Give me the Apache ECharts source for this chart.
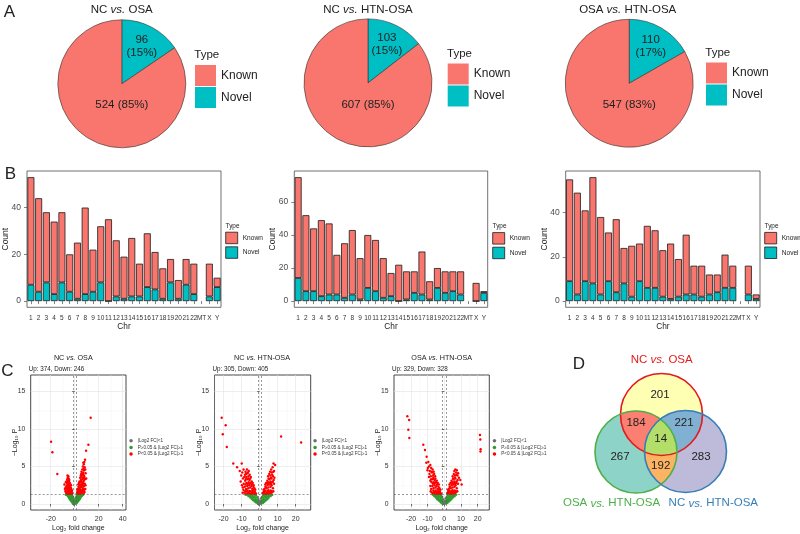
<!DOCTYPE html>
<html>
<head>
<meta charset="utf-8">
<script src="https://cdn.jsdelivr.net/npm/echarts@6.0.0/dist/echarts.min.js"></script>
<style>
html,body{margin:0;padding:0;background:#ffffff;}
#chart{width:800px;height:534px;}
</style>
</head>
<body>
<div id="chart"></div>
<script>
// ================= DATA =================
// Panel A
const pieTitles = ['NC vs. OSA', 'NC vs. HTN-OSA', 'OSA vs. HTN-OSA'];
const pieKnown = [524, 607, 547];
const pieNovel = [96, 103, 110];
const typeNames = ['Known', 'Novel'];

// Panel B
const chrCategories = ['1','2','3','4','5','6','7','8','9','10','11','12','13','14','15','16','17','18','19','20','21','22','MT','X','Y'];
const b1Known = [46,40,30,31,30,16,24,37,18,24,35,24,18,25,14,23,16,13,10,8,11,13,null,14,4];
const b1Novel = [7,4,8,3,8,4,1,3,4,8,0,2,1,2,2,6,5,1,8,1,7,3,null,2,6];
const b2Known = [61,46,38,46,43,24,33,39,25,32,31,24,14,22,17,13,26,11,12,13,12,14,null,11,1];
const b2Novel = [14,6,6,3,4,4,2,4,1,8,6,2,3,0,1,5,4,1,8,5,6,4,null,0,5];
const b3Known = [46,46,32,48,35,22,33,16,23,17,28,26,21,25,17,27,13,14,9,8,15,10,null,13,2];
const b3Novel = [9,3,9,8,3,9,4,8,2,9,6,6,2,1,2,3,3,2,3,4,6,6,null,3,1];
const b1Ticks = [0,20,40];
const b2Ticks = [0,20,40,60];
const b3Ticks = [0,20,40];

// Panel C
const volcTitles = ['NC vs. OSA', 'NC vs. HTN-OSA', 'OSA vs. HTN-OSA'];
const volcUp = [374, 305, 329];
const volcDown = [246, 405, 328];
const volcLegend = ['|Log2 FC|<1', 'P\u22650.05 & |Log2 FC|\u22651', 'P<0.05 & |Log2 FC|\u22651'];
const fcCut = [-1, 1];
const pCut = 1.301;
const vYTicks = [0,5,10,15];
const vYMinor = [2.5,7.5,12.5];
const v1XTicks = [-20,0,20,40];
const v1XMinor = [-30,-10,10,30];
const v2XTicks = [-20,-10,0,10,20];
const v2XMinor = [-25,-15,-5,5,15,25];
const v3XTicks = [-20,-10,0,10,20];
const v3XMinor = [-25,-15,-5,5,15,25];

const v1Grey = [[-0.9,0.3],[-0.7,0.12],[-0.4,0.06],[0,0.02],[0.35,0.07],[0.65,0.18],[0.9,0.4],[-0.8,0.65],[0.75,0.75],[-0.5,0.35],[0.45,0.45],[-0.2,0.15],[0.2,0.22]];
const v1Green = [[-1.2,0.1],[-1.5,0.25],[-1.8,0.15],[-2.2,0.4],[-2.5,0.3],[-2.9,0.6],[-3.2,0.45],[-3.6,0.75],[-4.0,0.6],[-4.3,0.95],[-4.7,0.8],[-5.1,1.1],[-5.5,1.0],[-5.9,1.2],[-6.4,1.25],[-3.0,1.0],[-2.4,0.8],[-1.7,0.5],[-3.8,1.2],[-2.0,1.1],[-6.9,1.2],[-1.4,0.9],[-2.7,1.25],[-4.5,1.2],[-3.4,0.9],[-2.1,0.62],[-5.3,1.25],[-7.4,1.25],
  [1.2,0.12],[1.6,0.3],[1.9,0.18],[2.3,0.45],[2.7,0.35],[3.0,0.65],[3.4,0.5],[3.8,0.8],[4.1,0.65],[4.5,1.0],[4.9,0.85],[5.3,1.15],[5.7,1.05],[6.2,1.25],[2.8,1.0],[2.1,0.85],[1.5,0.6],[3.6,1.2],[1.8,1.15],[6.6,1.2],[1.3,0.95],[2.5,1.2],[4.3,1.2],[3.3,0.92],[2.2,0.64],[5.0,1.25],[7.0,1.25]];
const v1Red = [[-2.1,1.4],[-2.5,1.6],[-3.0,1.45],[-3.4,1.8],[-3.8,1.5],[-4.2,1.7],[-4.6,1.4],[-5.1,1.6],[-5.5,1.35],[-6.0,1.5],[-6.6,1.4],[-7.2,1.5],[-2.8,2.0],[-3.3,2.2],[-3.9,2.1],[-4.4,2.3],[-4.9,2.0],[-5.4,2.2],[-5.9,1.9],[-6.4,2.1],[-7.0,1.8],[-3.6,2.6],[-4.1,2.8],[-4.7,2.7],[-5.2,2.9],[-5.7,2.5],[-6.3,2.7],[-6.9,2.4],[-7.6,2.2],[-4.5,3.2],[-5.0,3.4],[-5.6,3.1],[-6.2,3.3],[-6.8,3.0],[-5.3,3.7],[-6.0,3.8],[-7.4,2.9],[-8.2,2.0],[-2.3,1.8],[-3.1,2.5],
  [-2.6,1.35],[-3.5,1.35],[-4.4,1.55],[-5.3,1.8],[-6.2,1.8],[-7.8,1.7],[-3.2,1.95],[-4.2,2.5],[-5.0,2.5],[-6.0,2.3],[-6.6,3.0],[-4.8,3.0],[-5.8,3.5],[-2.6,1.75],[-8.6,2.6],
  [-14.5,4.0],[-18.6,6.9],[-19.7,8.3],
  [1.8,1.4],[2.3,1.6],[2.8,1.45],[3.3,1.7],[3.8,1.5],[4.4,1.8],[5.0,1.4],[5.6,1.6],[6.2,1.5],[6.8,1.7],[7.5,1.4],[8.2,1.6],[2.6,2.0],[3.1,2.3],[3.7,2.1],[4.2,2.5],[4.8,2.2],[5.3,2.6],[5.9,2.3],[6.5,2.5],[7.1,2.1],[7.8,2.4],[3.5,2.8],[4.0,3.0],[4.6,2.9],[5.2,3.2],[5.7,3.0],[6.3,3.3],[6.9,2.9],[7.6,3.1],[8.4,2.7],[4.5,3.5],[5.1,3.8],[5.8,3.6],[6.4,3.9],[7.0,3.5],[7.7,3.8],[8.6,3.3],[5.6,4.3],[6.3,4.6],[7.1,4.2],[7.9,4.5],[6.8,5.0],[7.6,5.3],[8.3,4.9],[9.1,4.1],[8.0,5.6],[8.6,5.9],[9.0,2.5],[9.6,3.4],[2.1,1.9],[3.0,2.6],[4.1,1.9],
  [2.0,1.5],[2.6,1.75],[3.5,1.35],[4.2,1.45],[4.7,1.6],[5.3,1.85],[6.0,1.8],[6.6,2.0],[7.2,1.8],[7.9,1.9],[8.8,2.0],[3.3,2.0],[4.4,2.2],[5.5,2.3],[6.1,2.7],[6.9,2.7],[7.4,3.4],[8.1,3.6],[5.4,4.0],[6.9,4.0],[7.4,4.7],[8.8,4.6],[7.2,5.5],
  [9.5,7.1],[11.4,7.9],[13.3,11.5]];

const v2Grey = [[-0.9,0.3],[-0.7,0.12],[-0.4,0.06],[0,0.02],[0.35,0.07],[0.65,0.18],[0.9,0.4],[-0.8,0.65],[0.75,0.75],[-0.5,0.35],[0.45,0.45],[-0.2,0.15],[0.2,0.22]];
const v2Green = [[-1.2,0.12],[-1.6,0.28],[-1.9,0.2],[-2.3,0.42],[-2.7,0.33],[-3.1,0.62],[-3.5,0.5],[-3.9,0.8],[-4.3,0.66],[-4.7,1.0],[-5.2,0.86],[-5.6,1.15],[-6.1,1.05],[-6.6,1.25],[-7.2,1.22],[-3.0,1.0],[-2.3,0.85],[-1.6,0.55],[-4.0,1.2],[-2.0,1.15],[-1.3,0.9],[-2.8,1.25],[-5.0,1.25],[-3.6,0.95],[-2.2,0.64],[-7.8,1.25],
  [1.2,0.1],[1.5,0.27],[1.9,0.16],[2.2,0.4],[2.6,0.3],[3.0,0.6],[3.4,0.47],[3.8,0.77],[4.2,0.62],[4.6,0.98],[5.0,0.84],[5.5,1.15],[6.0,1.05],[6.5,1.24],[2.9,1.0],[2.2,0.83],[1.6,0.58],[3.7,1.2],[1.9,1.12],[1.3,0.92],[2.6,1.24],[3.5,0.93],[2.1,0.62],[4.7,1.24],[7.0,1.24]];
const v2Red = [[-2.0,1.4],[-2.6,1.6],[-3.1,1.45],[-3.7,1.75],[-4.2,1.5],[-4.8,1.7],[-5.3,1.4],[-5.9,1.6],[-6.5,1.45],[-7.1,1.65],[-7.8,1.4],[-8.5,1.55],[-2.9,2.1],[-3.5,2.3],[-4.1,2.0],[-4.6,2.4],[-5.2,2.2],[-5.8,2.5],[-6.3,2.1],[-6.9,2.4],[-7.5,2.0],[-8.2,2.3],[-9.0,1.9],[-3.8,2.8],[-4.4,3.0],[-5.0,2.8],[-5.6,3.2],[-6.1,2.9],[-6.7,3.3],[-7.3,2.8],[-8.0,3.1],[-8.8,2.7],[-4.9,3.6],[-5.5,3.9],[-6.2,3.7],[-6.8,4.1],[-7.4,3.6],[-8.1,3.9],[-9.2,3.4],[-6.0,4.4],[-7.0,4.6],[-7.8,4.3],[-8.9,4.6],[-10.2,3.8],[-11.0,4.4],[-2.4,1.9],[-3.3,2.5],[-9.8,2.5],[-10.5,3.0],
  [-2.3,1.35],[-3.4,1.4],[-4.5,1.35],[-5.6,1.75],[-6.8,1.8],[-8.0,1.75],[-9.4,1.5],[-3.2,1.9],[-4.3,2.6],[-5.5,2.7],[-6.6,2.7],[-7.8,2.6],[-9.3,2.2],[-5.2,3.4],[-6.4,3.4],[-7.6,3.3],[-8.5,3.6],[-6.5,4.2],[-7.5,4.0],[-9.6,4.2],
  [-9.9,5.4],[-14.6,5.4],[-12.5,4.9],[-18.2,7.6],[-20.4,9.3],[-18.8,10.5],[-21.0,11.5],
  [1.8,1.4],[2.3,1.6],[2.8,1.45],[3.3,1.75],[3.9,1.5],[4.5,1.7],[5.1,1.4],[5.7,1.6],[6.3,1.5],[7.0,1.6],[2.7,2.0],[3.2,2.3],[3.8,2.1],[4.3,2.5],[4.9,2.2],[5.5,2.6],[6.1,2.3],[6.7,2.5],[7.4,2.1],[3.6,2.8],[4.2,3.1],[4.8,2.9],[5.4,3.3],[6.0,3.0],[6.6,3.4],[7.3,3.0],[8.0,2.7],[4.7,3.7],[5.3,4.0],[6.0,3.8],[6.7,4.2],[7.4,3.7],[8.2,3.5],[6.4,4.6],[7.2,4.9],[8.0,4.4],[8.6,5.2],[7.7,5.4],[2.2,1.9],[3.1,2.6],
  [2.0,1.5],[2.6,1.75],[3.6,1.35],[4.2,1.5],[4.8,1.85],[5.4,1.45],[6.0,1.8],[6.6,1.75],[7.6,1.7],[3.5,2.2],[4.6,2.7],[5.8,2.8],[6.3,2.7],[7.0,2.9],[7.8,3.2],[5.0,3.4],[6.3,3.5],[7.0,3.9],[5.8,4.3],[7.6,4.3],
  [11.9,9.0],[23.0,8.2]];

const v3Grey = [[-0.9,0.3],[-0.7,0.12],[-0.4,0.06],[0,0.02],[0.35,0.07],[0.65,0.18],[0.9,0.4],[-0.8,0.65],[0.75,0.75],[-0.5,0.35],[0.45,0.45],[-0.2,0.15],[0.2,0.22]];
const v3Green = [[-1.2,0.1],[-1.5,0.26],[-1.9,0.18],[-2.2,0.43],[-2.6,0.32],[-3.0,0.6],[-3.4,0.48],[-3.8,0.78],[-4.2,0.64],[-4.6,0.98],[-5.0,0.85],[-5.5,1.12],[-5.9,1.02],[-6.4,1.24],[-2.9,1.02],[-2.2,0.86],[-1.5,0.57],[-3.8,1.18],[-1.9,1.13],[-1.3,0.93],[-2.7,1.26],[-3.5,0.94],[-2.1,0.63],[-4.8,1.25],[-6.9,1.25],
  [1.2,0.11],[1.6,0.29],[1.9,0.17],[2.3,0.44],[2.7,0.34],[3.1,0.63],[3.5,0.49],[3.9,0.79],[4.3,0.66],[4.7,1.01],[5.1,0.86],[5.6,1.14],[6.1,1.04],[6.6,1.25],[3.0,1.01],[2.3,0.84],[1.6,0.56],[3.9,1.21],[2.0,1.14],[1.4,0.91],[2.8,1.25],[3.6,0.95],[2.2,0.62],[4.9,1.24],[7.1,1.25]];
const v3Red = [[-2.0,1.4],[-2.6,1.6],[-3.2,1.45],[-3.8,1.7],[-4.4,1.5],[-5.0,1.65],[-5.6,1.4],[-6.2,1.6],[-6.9,1.45],[-7.6,1.55],[-2.9,2.1],[-3.5,2.3],[-4.1,2.0],[-4.7,2.4],[-5.3,2.2],[-5.9,2.5],[-6.5,2.1],[-7.2,2.4],[-7.9,2.0],[-3.9,2.8],[-4.5,3.1],[-5.1,2.9],[-5.7,3.2],[-6.3,2.9],[-6.9,3.3],[-7.6,2.9],[-8.4,3.1],[-5.5,3.7],[-6.1,4.0],[-6.8,3.8],[-7.4,4.2],[-8.1,3.7],[-8.9,4.0],[-7.0,4.6],[-7.9,4.8],[-8.7,4.4],[-9.2,5.0],[-10.1,4.5],[-2.3,1.9],[-3.3,2.6],
  [-2.3,1.35],[-3.5,1.4],[-4.7,1.35],[-5.3,1.8],[-6.6,1.8],[-8.2,1.7],[-3.2,1.9],[-4.4,2.6],[-5.6,2.8],[-6.8,2.7],[-8.4,2.4],[-5.4,3.4],[-6.6,3.5],[-7.9,3.3],[-9.2,3.6],[-6.4,4.3],[-7.7,4.3],[-8.4,5.2],[-9.9,4.8],[-10.8,5.5],
  [-9.6,5.6],[-10.6,6.3],[-11.6,7.2],[-12.6,7.9],[-22.2,11.7],[-21.1,11.2],[-21.6,9.9],[-21.0,8.8],
  [1.8,1.4],[2.3,1.6],[2.8,1.45],[3.4,1.7],[4.0,1.5],[4.6,1.7],[5.2,1.4],[5.8,1.6],[6.5,1.5],[7.2,1.6],[2.7,2.0],[3.2,2.3],[3.8,2.1],[4.4,2.5],[5.0,2.2],[5.6,2.6],[6.2,2.3],[6.8,2.5],[7.5,2.1],[3.7,2.8],[4.3,3.1],[4.9,2.9],[5.5,3.3],[6.1,3.0],[6.7,3.4],[7.4,3.0],[8.2,2.7],[5.0,3.7],[5.7,4.0],[6.4,3.8],[7.1,4.2],[7.9,3.8],[8.8,3.5],[6.6,4.6],[7.5,4.5],[9.6,3.2],[10.4,2.6],[2.2,1.9],[3.1,2.6],
  [2.0,1.5],[2.6,1.75],[3.7,1.35],[4.3,1.5],[4.9,1.85],[5.5,1.45],[6.1,1.8],[6.8,1.75],[7.8,1.7],[3.5,2.2],[4.7,2.7],[5.9,2.8],[6.4,2.7],[7.1,2.8],[8.0,3.2],[5.2,3.4],[6.4,3.5],[7.3,3.9],[6.0,4.4],[8.3,4.1],
  [21.4,9.2],[21.6,8.6],[21.8,7.3],[21.7,7.0]];

// Panel D
const vennSetNames = ['NC vs. OSA', 'OSA vs. HTN-OSA', 'NC vs. HTN-OSA'];
const vennRegions = ['A','B','C','AB','AC','BC','ABC'];
const vennCounts = [201, 267, 283, 184, 221, 192, 14];

// ================= STYLE / LAYOUT =================
const FONT = '"Liberation Sans", Arial, Helvetica, "DejaVu Sans", sans-serif';
const KNOWN_C = '#F8766D', NOVEL_C = '#00BFC4';
const PIE_CENTERS = [[121.8, 83.8], [368, 82.9], [629.2, 83.3]];
const PIE_R = 64;
const PIE_LEGEND_POS = [[195, 65], [447.7, 63.5], [706, 62.5]];
const BAR_GRIDS = [
  {left: 27, top: 171, width: 194, height: 136.3},
  {left: 294.3, top: 171, width: 193.4, height: 136.3},
  {left: 565.7, top: 171, width: 194.3, height: 136.3}
];
const BAR_LEGEND_POS = [[225.3, 231.8], [492.3, 232.2], [764.3, 232]];
const VOLC_GRIDS = [
  {left: 30.7, top: 375, width: 95.3, height: 135},
  {left: 214.5, top: 375, width: 96.2, height: 135},
  {left: 394, top: 375, width: 95.3, height: 135}
];
const VOLC_XRANGE = [[-36.7, 42.75], [-25, 28.3], [-30.2, 27.0]];
const VOLC_YRANGE = [-0.8, 17.2];
const VOLC_LEGEND_POS = [[129.3, 438.3], [313.3, 438.3], [492.7, 438.3]];
const VOLC_COLORS = ['#6e6e6e', '#2E9B2E', '#FF0000'];
const VENN_GRID = {left: 560, top: 340, width: 200, height: 180};
const VENN_C = [[101.5, 74.5], [76, 112], [125.5, 111.5]];
const VENN_R = 41;
const VENN_LABEL_POS = [[100, 55], [60, 116.7], [141, 116.7], [76, 83.3], [124, 83.3], [100.7, 125.7], [100.7, 99]];
const VENN_FILL = {A: '#FFFFB3', B: '#8DD3C7', C: '#BEBADA', AB: '#FB8072', AC: '#80B1D3', BC: '#FDB462', ABC: '#B3DE69'};
const VENN_STROKE = ['#E41A1C', '#4DAF4A', '#377EB8'];

function vsRich(s) { return s.replace('vs.', '{i|vs.}'); }
function gText(x, y, text, size, extra) {
  const fill = (extra && extra.fill) || '#222';
  const align = (extra && extra.align) || 'center';
  return {
    type: 'text', x: x, y: y, silent: true, z: 100,
    style: {
      text: text, fontSize: size, fontFamily: FONT, fill: fill,
      align: align, verticalAlign: 'middle', textAlign: align, textVerticalAlign: 'middle',
      rich: {i: {fontStyle: 'italic', fontSize: size, fontFamily: FONT, fill: fill}}
    }
  };
}

const grids = [], xAxes = [], yAxes = [], series = [], legends = [], graphics = [];

// ---------- Panel A: pies ----------
for (let k = 0; k < 3; k++) {
  const c = PIE_CENTERS[k];
  series.push({
    type: 'pie', center: c, radius: PIE_R, startAngle: 90, clockwise: true,
    silent: true, animation: false, avoidLabelOverlap: false,
    itemStyle: {borderColor: '#333', borderWidth: 0.6},
    data: [
      {name: 'Novel', value: pieNovel[k], itemStyle: {color: NOVEL_C}},
      {name: 'Known', value: pieKnown[k], itemStyle: {color: KNOWN_C}}
    ],
    label: {
      show: true, position: 'inside', fontSize: 11.5, fontFamily: FONT, color: '#222', lineHeight: 13,
      align: 'center', verticalAlign: 'middle',
      formatter: p => p.dataIndex === 0 ? p.value + '\n(' + Math.round(p.percent) + '%)' : p.value + ' (' + Math.round(p.percent) + '%)'
    },
    labelLine: {show: false},
    labelLayout: function (p) {
      if (p.dataIndex === 0) {
        const frac = pieNovel[k] / (pieNovel[k] + pieKnown[k]);
        const a = frac * Math.PI;
        return {x: c[0] + 0.67 * PIE_R * Math.sin(a), y: c[1] - 0.67 * PIE_R * Math.cos(a), align: 'center', verticalAlign: 'middle'};
      }
      return {x: c[0], y: c[1] + 0.335 * PIE_R, align: 'center', verticalAlign: 'middle'};
    }
  });
  legends.push({
    left: PIE_LEGEND_POS[k][0], top: PIE_LEGEND_POS[k][1], orient: 'vertical', padding: 0,
    itemWidth: 21, itemHeight: 21, itemGap: 1, icon: 'rect', selectedMode: false,
    data: typeNames, textStyle: {fontSize: 12, fontFamily: FONT, color: '#222'},
    itemStyle: {borderWidth: 0}
  });
  graphics.push(gText(PIE_CENTERS[k][0] + (k === 2 ? -1.5 : 0), 9.8, vsRich(pieTitles[k]), 11.5));
  graphics.push(gText(PIE_LEGEND_POS[k][0] - 0.7, PIE_LEGEND_POS[k][1] - 10, 'Type', 11.5, {align: 'left'}));
}

// ---------- Panel B: stacked bars ----------
const barSets = [[b1Known, b1Novel, b1Ticks], [b2Known, b2Novel, b2Ticks], [b3Known, b3Novel, b3Ticks]];
barSets.forEach(function (set, i) {
  const kn = set[0], nv = set[1], ticks = set[2];
  const g = grids.length;
  grids.push(Object.assign({}, BAR_GRIDS[i], {show: true, borderColor: '#4d4d4d', borderWidth: 0.8, backgroundColor: 'transparent', containLabel: false, outerBoundsMode: 'none'}));
  const totals = kn.map((v, j) => v == null ? 0 : v + nv[j]);
  const mx = Math.max.apply(null, totals);
  const xi = xAxes.length, yi = yAxes.length;
  xAxes.push({
    gridIndex: g, type: 'category', data: chrCategories, boundaryGap: true,
    axisLine: {show: false},
    axisTick: {show: true, alignWithLabel: true, interval: 0, length: 3, lineStyle: {color: '#4d4d4d', width: 0.7}},
    axisLabel: {interval: 0, fontSize: 6.5, fontFamily: FONT, color: '#333', margin: 7},
    splitLine: {show: false},
    name: 'Chr', nameLocation: 'middle', nameGap: 15.5, nameMoveOverlap: false, nameTextStyle: {fontSize: 8.3, fontFamily: FONT, color: '#222'}
  });
  yAxes.push({
    gridIndex: g, type: 'value', min: -0.05 * mx, max: 1.05 * mx,
    axisLine: {show: false},
    axisTick: {show: true, length: 3, customValues: ticks, lineStyle: {color: '#4d4d4d', width: 0.7}},
    axisLabel: {customValues: ticks, fontSize: 8.5, fontFamily: FONT, color: '#4d4d4d', margin: 6},
    splitLine: {show: false},
    name: 'Count', nameLocation: 'middle', nameGap: 17, nameRotate: 90, nameMoveOverlap: false, nameTextStyle: {fontSize: 8.5, fontFamily: FONT, color: '#222'}
  });
  series.push({
    type: 'bar', name: 'Novel', xAxisIndex: xi, yAxisIndex: yi, stack: 'chr' + i, silent: true, animation: false,
    barCategoryGap: '10%',
    data: nv.map(v => v == null ? '-' : v),
    itemStyle: {color: NOVEL_C, borderColor: '#1a1a1a', borderWidth: 0.8}
  });
  series.push({
    type: 'bar', name: 'Known', xAxisIndex: xi, yAxisIndex: yi, stack: 'chr' + i, silent: true, animation: false,
    barCategoryGap: '10%',
    data: kn.map(v => v == null ? '-' : v),
    itemStyle: {color: KNOWN_C, borderColor: '#1a1a1a', borderWidth: 0.8}
  });
  legends.push({
    left: BAR_LEGEND_POS[i][0], top: BAR_LEGEND_POS[i][1], orient: 'vertical', padding: 0,
    itemWidth: 12, itemHeight: 11.5, itemGap: 2.3, icon: 'rect', selectedMode: false,
    data: typeNames, textStyle: {fontSize: 6.6, fontFamily: FONT, color: '#222'},
    itemStyle: {borderColor: '#1a1a1a', borderWidth: 0.8}
  });
  graphics.push(gText(BAR_LEGEND_POS[i][0] + 0.3, 226.7, 'Type', 6.4, {align: 'left'}));
});

// ---------- Panel C: volcano plots ----------
const volcSets = [
  [v1Grey, v1Green, v1Red, v1XTicks, v1XMinor],
  [v2Grey, v2Green, v2Red, v2XTicks, v2XMinor],
  [v3Grey, v3Green, v3Red, v3XTicks, v3XMinor]
];
volcSets.forEach(function (set, i) {
  const g = grids.length;
  grids.push(Object.assign({}, VOLC_GRIDS[i], {show: true, borderColor: '#333', borderWidth: 0.9, backgroundColor: '#ffffff', containLabel: false, outerBoundsMode: 'none'}));
  const xi = xAxes.length, yi = yAxes.length;
  xAxes.push({
    gridIndex: g, type: 'value', min: VOLC_XRANGE[i][0], max: VOLC_XRANGE[i][1], position: 'bottom',
    axisLine: {show: false},
    axisTick: {show: true, length: 2.5, customValues: set[3], lineStyle: {color: '#333', width: 0.7}},
    axisLabel: {customValues: set[3], fontSize: 7, fontFamily: FONT, color: '#333', margin: 5.5},
    splitLine: {show: true, lineStyle: {color: '#e3e3e3', width: 0.6}},
    name: 'Log\u2082 fold change', nameLocation: 'middle', nameGap: 14.5, nameMoveOverlap: false, nameTextStyle: {fontSize: 7, fontFamily: FONT, color: '#222'}
  });
  xAxes.push({
    gridIndex: g, type: 'value', min: VOLC_XRANGE[i][0], max: VOLC_XRANGE[i][1], position: 'top',
    axisLine: {show: false}, axisTick: {show: false, customValues: set[4]}, axisLabel: {show: false},
    splitLine: {show: true, lineStyle: {color: '#f1f1f1', width: 0.4}}
  });
  yAxes.push({
    gridIndex: g, type: 'value', min: VOLC_YRANGE[0], max: VOLC_YRANGE[1], position: 'left',
    axisLine: {show: false},
    axisTick: {show: true, length: 2.5, customValues: vYTicks, lineStyle: {color: '#333', width: 0.7}},
    axisLabel: {customValues: vYTicks, fontSize: 6.8, fontFamily: FONT, color: '#333', margin: 5.5},
    splitLine: {show: true, lineStyle: {color: '#e3e3e3', width: 0.6}},
    name: '\u2212Log\u2081\u2080 P', nameLocation: 'middle', nameGap: 12, nameRotate: 90, nameMoveOverlap: false, nameTextStyle: {fontSize: 7, fontFamily: FONT, color: '#222'}
  });
  yAxes.push({
    gridIndex: g, type: 'value', min: VOLC_YRANGE[0], max: VOLC_YRANGE[1], position: 'right',
    axisLine: {show: false}, axisTick: {show: false, customValues: vYMinor}, axisLabel: {show: false},
    splitLine: {show: true, lineStyle: {color: '#f1f1f1', width: 0.4}}
  });
  for (let s = 0; s < 3; s++) {
    const ser = {
      type: 'scatter', name: volcLegend[s], xAxisIndex: xi, yAxisIndex: yi, silent: true, animation: false,
      symbol: 'circle', symbolSize: 2.4, data: set[s],
      itemStyle: {color: VOLC_COLORS[s], opacity: 1}
    };
    if (s === 0) {
      ser.markLine = {
        silent: true, symbol: 'none', animation: false, label: {show: false},
        lineStyle: {type: [2, 2], color: '#555', width: 0.6},
        data: [{xAxis: fcCut[0]}, {xAxis: fcCut[1]}, {yAxis: pCut}]
      };
    }
    series.push(ser);
  }
  legends.push({
    left: VOLC_LEGEND_POS[i][0], top: VOLC_LEGEND_POS[i][1], orient: 'vertical', padding: 0,
    itemWidth: 3.5, itemHeight: 3.5, itemGap: 1.6, icon: 'circle', selectedMode: false,
    data: volcLegend, textStyle: {fontSize: 4.6, fontFamily: FONT, color: '#333'}
  });
  const gr = VOLC_GRIDS[i];
  const tx = [73.3, 262, 441.7][i];
  graphics.push(gText(tx, 358.3, vsRich(volcTitles[i]), 7.2));
  graphics.push(gText(gr.left - 2, 369, 'Up: ' + volcUp[i] + ', Down: ' + volcDown[i], 6.3, {align: 'left'}));
});

// ---------- Panel D: Venn ----------
(function () {
  const g = grids.length;
  grids.push(Object.assign({}, VENN_GRID, {show: false, containLabel: false, outerBoundsMode: 'none'}));
  const xi = xAxes.length, yi = yAxes.length;
  xAxes.push({gridIndex: g, type: 'value', min: 0, max: VENN_GRID.width, show: false});
  yAxes.push({gridIndex: g, type: 'value', min: 0, max: VENN_GRID.height, inverse: true, show: false});

  function circles(api) {
    const r = api.size([VENN_R, 0])[0];
    return VENN_C.map(c => { const p = api.coord(c); return {x: p[0], y: p[1], r: r}; });
  }
  function inter(a, b) {
    const dx = b.x - a.x, dy = b.y - a.y, d = Math.hypot(dx, dy);
    const l = (a.r * a.r - b.r * b.r + d * d) / (2 * d);
    const h = Math.sqrt(Math.max(0, a.r * a.r - l * l));
    const mx = a.x + dx * l / d, my = a.y + dy * l / d;
    return [[mx - dy * h / d, my + dx * h / d], [mx + dy * h / d, my - dx * h / d]];
  }
  const inside = (p, c) => Math.hypot(p[0] - c.x, p[1] - c.y) < c.r;
  function arc(c, p, q, test) {
    const a1 = Math.atan2(p[1] - c.y, p[0] - c.x), a2 = Math.atan2(q[1] - c.y, q[0] - c.x);
    let d = a2 - a1;
    while (d < 0) d += 2 * Math.PI;
    while (d >= 2 * Math.PI) d -= 2 * Math.PI;
    const cands = [d, d - 2 * Math.PI];
    let best = cands[0];
    for (const dd of cands) {
      const am = a1 + dd / 2;
      if (test([c.x + c.r * Math.cos(am), c.y + c.r * Math.sin(am)])) { best = dd; break; }
    }
    const n = Math.max(8, Math.ceil(Math.abs(best) * 30));
    const pts = [];
    for (let j = 0; j < n; j++) { const a = a1 + best * j / n; pts.push([c.x + c.r * Math.cos(a), c.y + c.r * Math.sin(a)]); }
    return pts;
  }
  const SPECS = {
    AB:  {m: {A: 1, B: 1, C: 0}, e: [['ABo', 'B', 'BCi'], ['BCi', 'C', 'ACi'], ['ACi', 'A', 'ABo']]},
    AC:  {m: {A: 1, B: 0, C: 1}, e: [['ACo', 'A', 'ABi'], ['ABi', 'B', 'BCi'], ['BCi', 'C', 'ACo']]},
    BC:  {m: {A: 0, B: 1, C: 1}, e: [['BCo', 'C', 'ACi'], ['ACi', 'A', 'ABi'], ['ABi', 'B', 'BCo']]},
    ABC: {m: {A: 1, B: 1, C: 1}, e: [['BCi', 'B', 'ABi'], ['ABi', 'A', 'ACi'], ['ACi', 'C', 'BCi']]}
  };
  series.push({
    type: 'custom', coordinateSystem: 'cartesian2d', xAxisIndex: xi, yAxisIndex: yi, silent: true, animation: false,
    data: vennCounts.map((v, j) => [j, v]),
    renderItem: function (params, api) {
      const j = params.dataIndex;
      const cs = circles(api);
      const circ = {A: cs[0], B: cs[1], C: cs[2]};
      const key = vennRegions[j];
      const lp = api.coord(VENN_LABEL_POS[j]);
      const label = {type: 'text', x: lp[0], y: lp[1], z2: 20, style: {text: String(vennCounts[j]), fontSize: 11.5, fontFamily: FONT, fill: '#222', align: 'center', verticalAlign: 'middle', textAlign: 'center', textVerticalAlign: 'middle'}};
      let shape;
      if (key.length === 1) {
        const c = circ[key];
        shape = {type: 'circle', z2: 1, shape: {cx: c.x, cy: c.y, r: c.r}, style: {fill: VENN_FILL[key], stroke: null}};
      } else {
        function pair(a, b, o) { const p = inter(a, b); return inside(p[0], o) ? {i: p[0], o: p[1]} : {i: p[1], o: p[0]}; }
        const ab = pair(cs[0], cs[1], cs[2]), ac = pair(cs[0], cs[2], cs[1]), bc = pair(cs[1], cs[2], cs[0]);
        const P = {ABi: ab.i, ABo: ab.o, ACi: ac.i, ACo: ac.o, BCi: bc.i, BCo: bc.o};
        const spec = SPECS[key];
        let pts = [];
        spec.e.forEach(function (ed) {
          const X = ed[1];
          const test = mp => ['A', 'B', 'C'].filter(Y => Y !== X).every(Y => inside(mp, circ[Y]) === !!spec.m[Y]);
          pts = pts.concat(arc(circ[X], P[ed[0]], P[ed[2]], test));
        });
        shape = {type: 'polygon', z2: key.length, shape: {points: pts}, style: {fill: VENN_FILL[key], stroke: VENN_FILL[key], lineWidth: 0.6}};
      }
      return {type: 'group', children: [shape, label]};
    }
  });
  series.push({
    type: 'custom', coordinateSystem: 'cartesian2d', xAxisIndex: xi, yAxisIndex: yi, silent: true, animation: false, z: 3,
    data: VENN_C.map((c, j) => [j, 0]),
    renderItem: function (params, api) {
      const c = circles(api)[params.dataIndex];
      return {type: 'circle', shape: {cx: c.x, cy: c.y, r: c.r}, style: {fill: 'none', stroke: VENN_STROKE[params.dataIndex], lineWidth: 1.6}};
    }
  });
  graphics.push(gText(661.7, 360, vsRich(vennSetNames[0]), 11.5, {fill: VENN_STROKE[0]}));
  graphics.push(gText(611.5, 503.3, vsRich(vennSetNames[1]), 11.5, {fill: VENN_STROKE[1]}));
  graphics.push(gText(713.3, 503.3, vsRich(vennSetNames[2]), 11.5, {fill: VENN_STROKE[2]}));
})();

// Panel letters
graphics.push(gText(9.3, 12, 'A', 17));
graphics.push(gText(10.5, 174, 'B', 17));
graphics.push(gText(7.5, 371.7, 'C', 17));
graphics.push(gText(579, 364, 'D', 17));

const chart = echarts.init(document.getElementById('chart'), null, {renderer: 'canvas'});
chart.setOption({
  animation: false,
  backgroundColor: '#ffffff',
  textStyle: {fontFamily: FONT},
  tooltip: {show: false},
  grid: grids,
  xAxis: xAxes,
  yAxis: yAxes,
  legend: legends,
  series: series,
  graphic: {elements: graphics}
});
</script>
</body>
</html>
